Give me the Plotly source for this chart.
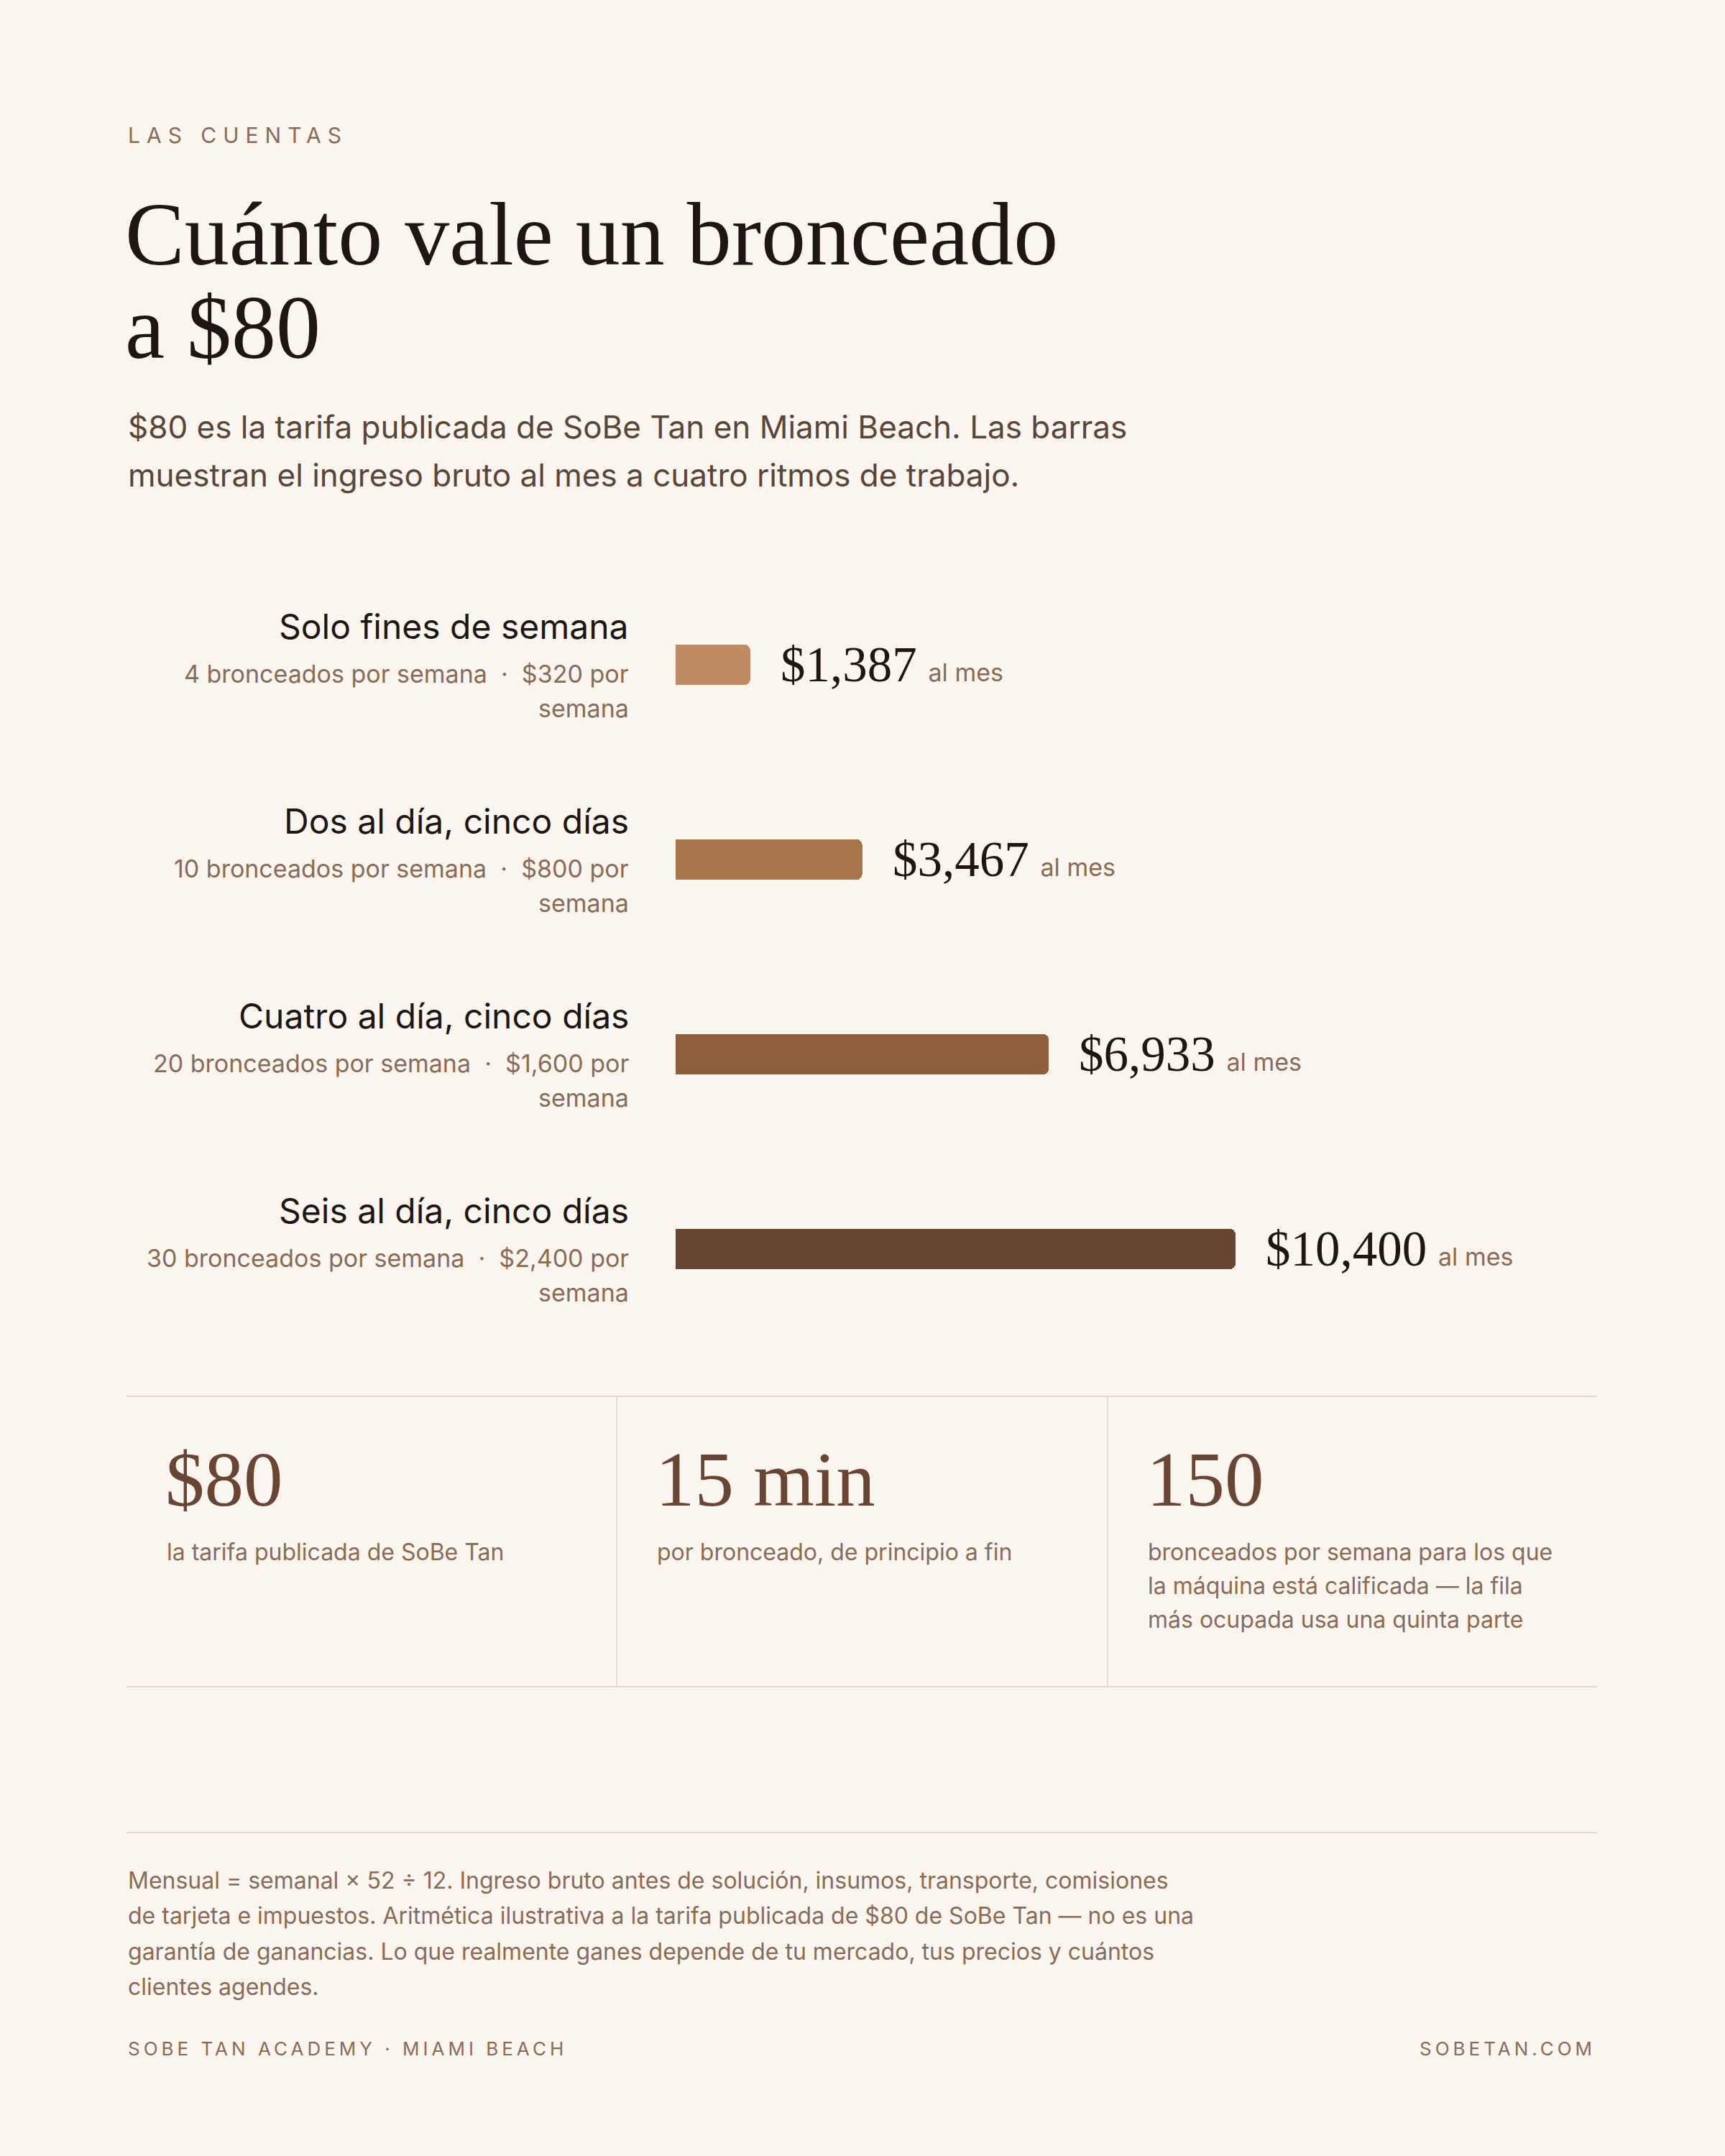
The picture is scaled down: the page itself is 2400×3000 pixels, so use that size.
import plotly.graph_objects as go

W, H = 2400, 3000

# ---------------- data ----------------
rows = ["Solo fines de semana", "Dos al día, cinco días",
        "Cuatro al día, cinco días", "Seis al día, cinco días"]
tans_per_week = [4, 10, 20, 30]
weekly_revenue = [320, 800, 1600, 2400]
monthly_revenue = [1387, 3467, 6933, 10400]
bar_colors = ["#c08a62", "#a8744a", "#8e5f3c", "#674331"]

stat_values = ["$80", "15 min", "150"]
stat_captions = [
    ["la tarifa publicada de SoBe Tan"],
    ["por bronceado, de principio a fin"],
    ["bronceados por semana para los que",
     "la máquina está calificada — la fila",
     "más ocupada usa una quinta parte"],
]
footnote_lines = [
    "Mensual = semanal × 52 ÷ 12. Ingreso bruto antes de solución, insumos, transporte, comisiones",
    "de tarjeta e impuestos. Aritmética ilustrativa a la tarifa publicada de $80 de SoBe Tan — no es una",
    "garantía de ganancias. Lo que realmente ganes depende de tu mercado, tus precios y cuántos",
    "clientes agendes.",
]
eyebrow = "LAS CUENTAS"
title_lines = ["Cuánto vale un bronceado", "a $80"]
subtitle_lines = ["$80 es la tarifa publicada de SoBe Tan en Miami Beach. Las barras",
                  "muestran el ingreso bruto al mes a cuatro ritmos de trabajo."]
footer_left = "SOBE TAN ACADEMY · MIAMI BEACH"
footer_right = "SOBETAN.COM"

# ---------------- style ----------------
BG = "#faf5ef"
DARK = "#1e1612"
MUTED = "#8b6b56"
SUB = "#5b4538"
STAT = "#6b4533"
RULE = "#e2d8cb"
SANS = "Inter"
SERIF = "Liberation Serif"


def px(x):
    return x / W


def py(y):
    return 1 - y / H


fig = go.Figure()
ypos = list(range(len(rows)))
fig.add_trace(go.Bar(
    x=monthly_revenue, y=ypos, orientation="h",
    marker=dict(color=bar_colors, cornerradius=8, line=dict(width=0)),
    width=0.207, hoverinfo="skip", showlegend=False,
))

ann = []


def text(x, y, t, size, color, family=SANS, anchor="left", **kw):
    ann.append(dict(x=px(x), y=py(y), xref="paper", yref="paper", text=t,
                    showarrow=False, xanchor=anchor, yanchor="middle",
                    font=dict(size=size, color=color, family=family), **kw))


# header
text(176, 188, eyebrow, 30, MUTED)
text(172, 326, title_lines[0], 124, DARK, SERIF)
text(172, 457, title_lines[1], 124, DARK, SERIF)
for i, line in enumerate(subtitle_lines):
    text(176, 594 + i * 67, line, 44, SUB)

# row labels & values
NB = "\u00a0"
LBL_X = 877
for i, name in enumerate(rows):
    ann.append(dict(x=px(LBL_X), y=i, xref="paper", yref="y", text=name,
                    showarrow=False, xanchor="right", yanchor="middle", yshift=54,
                    font=dict(size=48, color=DARK, family=SANS)))
    l1 = f"{tans_per_week[i]} bronceados por semana{NB}{NB}·{NB}{NB}${weekly_revenue[i]:,} por"
    ann.append(dict(x=px(LBL_X), y=i, xref="paper", yref="y", text=l1,
                    showarrow=False, xanchor="right", yanchor="middle", yshift=-12,
                    font=dict(size=34, color=MUTED, family=SANS)))
    ann.append(dict(x=px(LBL_X), y=i, xref="paper", yref="y", text="semana",
                    showarrow=False, xanchor="right", yanchor="middle", yshift=-60,
                    font=dict(size=34, color=MUTED, family=SANS)))
    val = (f"<span style='font-family:{SERIF};font-size:69px;color:{DARK}'>${monthly_revenue[i]:,}</span>"
           f"{NB}\u2009<span style='font-size:34px;color:{MUTED}'>al mes</span>")
    ann.append(dict(x=monthly_revenue[i], y=i, xref="x", yref="y", text=val,
                    showarrow=False, xanchor="left", yanchor="middle", xshift=40,
                    font=dict(size=34, color=MUTED, family=SANS)))

# stats
col_left = [176, 858, 1541]
for j, v in enumerate(stat_values):
    text(col_left[j] + 52, 2058, v, 109, STAT, SERIF)
    for k, line in enumerate(stat_captions[j]):
        text(col_left[j] + 54, 2159 + k * 47, line, 32, MUTED)

# footnote
for k, line in enumerate(footnote_lines):
    text(176, 2616 + k * 49.5, line, 32, MUTED)
text(176, 2850, footer_left, 26, MUTED)
text(2222, 2850, footer_right, 26, MUTED, anchor="right")

shapes = [
    dict(type="line", xref="paper", yref="paper", x0=px(176), x1=px(2222), y0=py(1943), y1=py(1943),
         line=dict(color=RULE, width=2)),
    dict(type="line", xref="paper", yref="paper", x0=px(176), x1=px(2222), y0=py(2347), y1=py(2347),
         line=dict(color=RULE, width=2)),
    dict(type="line", xref="paper", yref="paper", x0=px(858), x1=px(858), y0=py(1943), y1=py(2347),
         line=dict(color=RULE, width=1.5)),
    dict(type="line", xref="paper", yref="paper", x0=px(1541), x1=px(1541), y0=py(1943), y1=py(2347),
         line=dict(color=RULE, width=1.5)),
    dict(type="line", xref="paper", yref="paper", x0=px(176), x1=px(2222), y0=py(2550), y1=py(2550),
         line=dict(color=RULE, width=2)),
]

fig.update_layout(
    width=W, height=H, margin=dict(l=0, r=0, t=0, b=0),
    paper_bgcolor=BG, plot_bgcolor=BG,
    xaxis=dict(domain=[px(940), px(1719)], range=[0, max(monthly_revenue)], visible=False, fixedrange=True),
    yaxis=dict(domain=[py(1873.5), py(789.5)], range=[len(rows) - 0.5, -0.5], visible=False, fixedrange=True),
    annotations=ann, shapes=shapes, showlegend=False, bargap=0,
    font=dict(family=SANS),
)

post = """
document.body.style.margin = '0';
document.body.style.background = '%s';
function applyLS(){
  var map = {'LAS CUENTAS':['9px','left'],'SOBE TAN ACADEMY · MIAMI BEACH':['5px','left'],'SOBETAN.COM':['5px','right']};
  document.querySelectorAll('text').forEach(function(t){
    var c = t.textContent;
    var m = map[c];
    if (!m || t.getAttribute('data-ls-done')) return;
    var b0 = t.getBBox();
    t.style.letterSpacing = m[0];
    var b1 = t.getBBox();
    var dx = (m[1] === 'left') ? (b0.x - b1.x) : ((b0.x + b0.width) - (b1.x + b1.width));
    var x = parseFloat(t.getAttribute('x') || '0');
    t.setAttribute('x', x + dx);
    t.setAttribute('data-ls-done', '1');
  });
}
setTimeout(applyLS, 50); setTimeout(applyLS, 400);
""" % BG
fig.write_html("out.html", config={"displayModeBar": False, "staticPlot": True}, post_script=post)
